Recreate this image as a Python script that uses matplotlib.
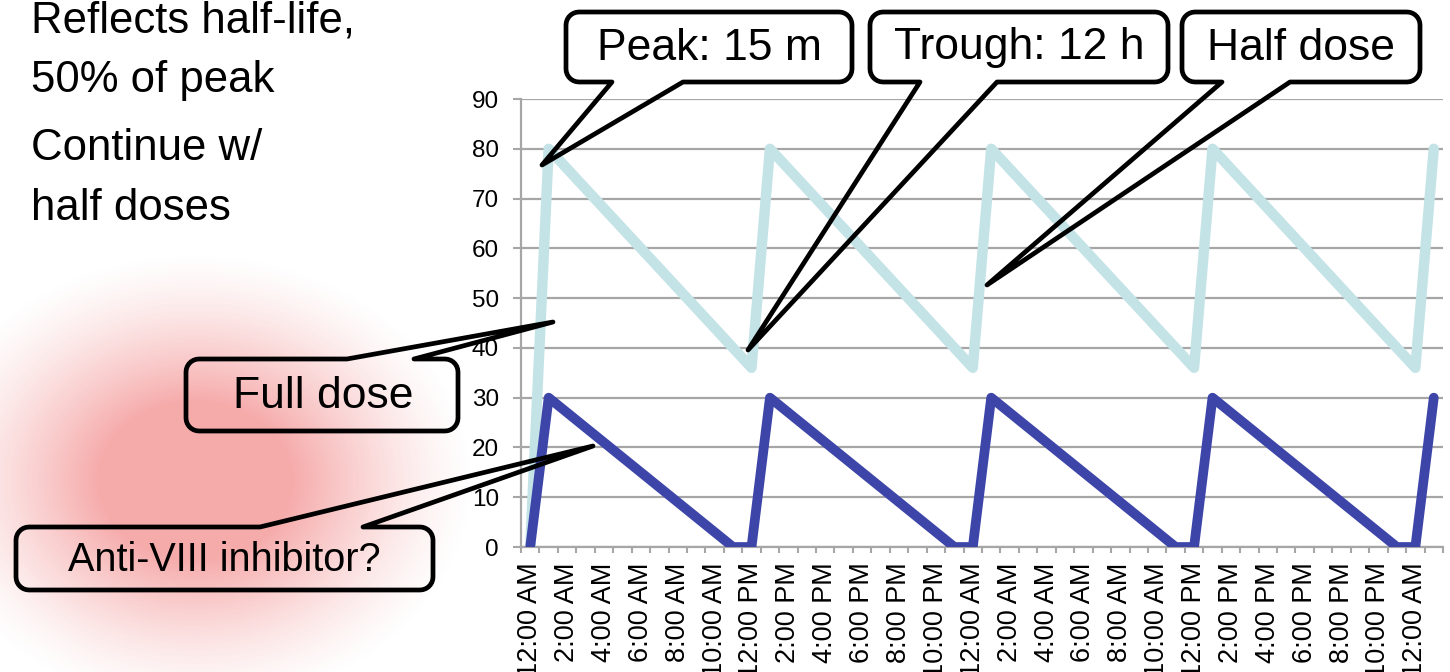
import numpy as np
import matplotlib
matplotlib.use("Agg")
import matplotlib.pyplot as plt
from matplotlib.patches import Polygon
from matplotlib.ticker import FixedLocator
from matplotlib import font_manager as fm

plt.rcParams['font.family'] = ['Liberation Sans', 'DejaVu Sans']

# ---------------- data ----------------
hours = list(range(50))
hour_labels = ["12:00 AM", "2:00 AM", "4:00 AM", "6:00 AM", "8:00 AM", "10:00 AM",
               "12:00 PM", "2:00 PM", "4:00 PM", "6:00 PM", "8:00 PM", "10:00 PM",
               "12:00 AM", "2:00 AM", "4:00 AM", "6:00 AM", "8:00 AM", "10:00 AM",
               "12:00 PM", "2:00 PM", "4:00 PM", "6:00 PM", "8:00 PM", "10:00 PM",
               "12:00 AM"]
full_dose = [0,
             80, 76, 72, 68, 64, 60, 56, 52, 48, 44, 40, 36,
             80, 76, 72, 68, 64, 60, 56, 52, 48, 44, 40, 36,
             80, 76, 72, 68, 64, 60, 56, 52, 48, 44, 40, 36,
             80, 76, 72, 68, 64, 60, 56, 52, 48, 44, 40, 36,
             80]
inhibitor = [0,
             30, 27, 24, 21, 18, 15, 12, 9, 6, 3, 0, 0,
             30, 27, 24, 21, 18, 15, 12, 9, 6, 3, 0, 0,
             30, 27, 24, 21, 18, 15, 12, 9, 6, 3, 0, 0,
             30, 27, 24, 21, 18, 15, 12, 9, 6, 3, 0, 0,
             30]
y_ticks = [0, 10, 20, 30, 40, 50, 60, 70, 80, 90]

available = {f.name for f in fm.fontManager.ttflist}
if 'Liberation Sans Narrow' in available:
    narrow = ['Liberation Sans Narrow', 'DejaVu Sans']
    fs_top, fs_anti = 37, 34.5
else:
    narrow = ['Liberation Sans', 'DejaVu Sans']
    fs_top, fs_anti = 31.5, 28.5

W, H = 1450, 672
fig = plt.figure(figsize=(W / 100, H / 100), dpi=100)
fig.patch.set_facecolor('white')

# ---------------- background blob ----------------
bg = fig.add_axes([0, 0, 1, 1], zorder=0)
bg.set_xlim(0, W)
bg.set_ylim(H, 0)
bg.axis('off')
yy, xx = np.mgrid[0:H, 0:W]
d = np.sqrt(((xx - 195) / 245.0) ** 2 + ((yy - 480) / 200.0) ** 2)
alpha = np.clip((1.15 - d) / 0.75, 0, 1) ** 1.4 * 0.42
# whitish streak lower left
d2 = np.sqrt(((xx + 60) / 140.0) ** 2 + ((yy - 720) / 150.0) ** 2)
alpha *= np.clip(d2 - 0.2, 0, 1) ** 0.5
img = np.zeros((H, W, 4))
img[..., 0] = 0.92
img[..., 1] = 0.22
img[..., 2] = 0.22
img[..., 3] = alpha
bg.imshow(img, extent=(0, W, H, 0), interpolation='bilinear', aspect='auto')

# ---------------- chart ----------------
x0, x1, ytop, ybot = 521, 1443, 99, 547
ax = fig.add_axes([x0 / W, (H - ybot) / H, (x1 - x0) / W, (ybot - ytop) / H], zorder=2)
ax.set_facecolor('none')
grid_c = '#a6a6a6'
ax.plot(hours, full_dose, color='#c3e3e7', lw=7.5, solid_joinstyle='round',
        solid_capstyle='round', zorder=3)
ax.plot(hours, inhibitor, color='#3d45a9', lw=7.0, solid_joinstyle='round',
        solid_capstyle='round', zorder=4)
ax.set_xlim(-0.5, 49.5)
ax.set_ylim(0, 90)
ax.set_yticks(y_ticks)
ax.set_yticklabels([str(v) for v in y_ticks], fontsize=17.5)
ax.yaxis.grid(True, color=grid_c, lw=1.6)
ax.set_axisbelow(True)
ax.xaxis.set_major_locator(FixedLocator(hours[::2]))
ax.set_xticklabels(hour_labels, rotation=90, fontsize=19.5, va='top', ha='center')
ax.xaxis.set_minor_locator(FixedLocator([h - 0.5 for h in hours] + [49.5]))
ax.tick_params(axis='x', which='major', length=0, pad=11)
ax.tick_params(axis='x', which='minor', length=4, width=1.5, color=grid_c)
ax.tick_params(axis='y', length=6, width=1.5, color=grid_c, pad=10)
for s in ['top', 'right']:
    ax.spines[s].set_visible(False)
for s in ['left', 'bottom']:
    ax.spines[s].set_color(grid_c)
    ax.spines[s].set_linewidth(1.6)

# ---------------- overlay (callouts & text) ----------------
ov = fig.add_axes([0, 0, 1, 1], zorder=5)
ov.set_xlim(0, W)
ov.set_ylim(H, 0)
ov.axis('off')
ov.patch.set_alpha(0)


def arc(cx, cy, r, a0, a1, n=8):
    t = np.radians(np.linspace(a0, a1, n))
    return [(cx + r * np.cos(a), cy + r * np.sin(a)) for a in t]


def callout(bx0, by0, bx1, by1, side, a, b, tip, r=13):
    pts = []
    pts += arc(bx0 + r, by0 + r, r, 180, 270)
    if side == 'top':
        pts += [(a, by0), tip, (b, by0)]
    pts += arc(bx1 - r, by0 + r, r, 270, 360)
    pts += arc(bx1 - r, by1 - r, r, 0, 90)
    if side == 'bottom':
        pts += [(b, by1), tip, (a, by1)]
    pts += arc(bx0 + r, by1 - r, r, 90, 180)
    ov.add_patch(Polygon(pts, closed=True, facecolor='none', edgecolor='black',
                         lw=3.4, joinstyle='round'))


callout(566, 12, 852, 82, 'bottom', 612, 683, (542, 165))
callout(870, 12, 1168, 82, 'bottom', 920, 997, (748, 350))
callout(1182, 12, 1420, 82, 'bottom', 1222, 1290, (987, 285))
callout(186, 359, 458, 431, 'top', 347, 414, (553, 322))
callout(16, 527, 433, 590, 'top', 260, 363, (593, 446))

fs_c = 32
ov.text(709, 48, "Peak: 15 m", fontsize=fs_c, ha='center', va='center')
ov.text(1019, 48, "Trough: 12 h", fontsize=fs_c, ha='center', va='center')
ov.text(1301, 48, "Half dose", fontsize=fs_c, ha='center', va='center')
ov.text(323, 397, "Full dose", fontsize=fs_c, ha='center', va='center')
ov.text(224, 560, "Anti-VIII inhibitor?", fontsize=fs_anti, ha='center', va='center',
        family=narrow)

ov.text(31, 33, "Reflects half-life,", fontsize=fs_top, va='baseline', family=narrow)
ov.text(31, 92, "50% of peak", fontsize=fs_top, va='baseline', family=narrow)
ov.text(31, 160, "Continue w/", fontsize=fs_top, va='baseline', family=narrow)
ov.text(31, 220, "half doses", fontsize=fs_top, va='baseline', family=narrow)

fig.savefig("out.png", dpi=100)
